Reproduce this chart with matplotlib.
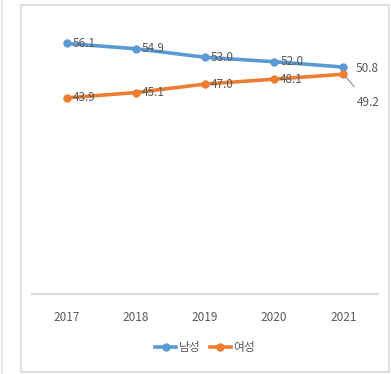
import matplotlib.pyplot as plt
from matplotlib.lines import Line2D
from matplotlib.patches import Rectangle

plt.rcParams['font.family'] = ['Liberation Sans Narrow', 'Noto Sans CJK KR', 'DejaVu Sans']

years = ["2017", "2018", "2019", "2020", "2021"]
male = [56.1, 54.9, 53.0, 52.0, 50.8]
female = [43.9, 45.1, 47.0, 48.1, 49.2]

BLUE = "#5B9BD5"
ORANGE = "#ED7D31"
TEXT = "#595959"
GRID = "#D9D9D9"
FS = 8.5

W, H = 391, 374
fig = plt.figure(figsize=(W / 100, H / 100), dpi=100)

# outer chart frame and the thin line on the far left
fig.patches.append(Rectangle((21 / W, 2 / H), 368 / W, 367 / H, transform=fig.transFigure,
                             fill=False, edgecolor=GRID, linewidth=1.2))
fig.add_artist(Line2D([1.5 / W, 1.5 / W], [0, 1], transform=fig.transFigure,
                      color="#E4E4E4", linewidth=1.2))

ax = fig.add_axes([32 / W, 80 / H, 346 / W, 268 / H])
x = list(range(len(years)))
ax.plot(x, male, color=BLUE, linewidth=2.6, marker="o", markersize=5, label="남성", zorder=3)
ax.plot(x, female, color=ORANGE, linewidth=2.6, marker="o", markersize=5, label="여성", zorder=3)

ax.set_xlim(-0.5, len(years) - 0.5)
ax.set_ylim(0, 60)
ax.set_xticks(x)
ax.set_xticklabels(years, fontsize=FS, color=TEXT)
ax.tick_params(axis="x", length=0, pad=12)
ax.set_yticks([])
for side in ["left", "right", "top"]:
    ax.spines[side].set_visible(False)
ax.spines["bottom"].set_color(GRID)
ax.spines["bottom"].set_linewidth(1.5)

# value labels to the right of each point
for i in range(len(years) - 1):
    ax.annotate(f"{male[i]:.1f}", (x[i], male[i]), xytext=(6, 0), textcoords="offset pixels",
                ha="left", va="center", fontsize=FS, color=TEXT, zorder=4)
    ax.annotate(f"{female[i]:.1f}", (x[i], female[i]), xytext=(6, 0), textcoords="offset pixels",
                ha="left", va="center", fontsize=FS, color=TEXT, zorder=4)

ax.annotate(f"{male[-1]:.1f}", (x[-1], male[-1]), xytext=(12, -1), textcoords="offset pixels",
            ha="left", va="center", fontsize=FS, color=TEXT)
ax.annotate(f"{female[-1]:.1f}", (x[-1], female[-1]), xytext=(13, -28), textcoords="offset pixels",
            ha="left", va="center", fontsize=FS, color=TEXT,
            arrowprops=dict(arrowstyle="-", color="#8C8C8C", linewidth=0.8, shrinkA=6, shrinkB=2))

ax.legend(loc="center", bbox_to_anchor=(205 / W, 26 / H), bbox_transform=fig.transFigure,
          ncol=2, frameon=False, fontsize=FS, labelcolor=TEXT, handlelength=1.8,
          handletextpad=0.2, columnspacing=0.8)

fig.savefig("out.png", dpi=100)
